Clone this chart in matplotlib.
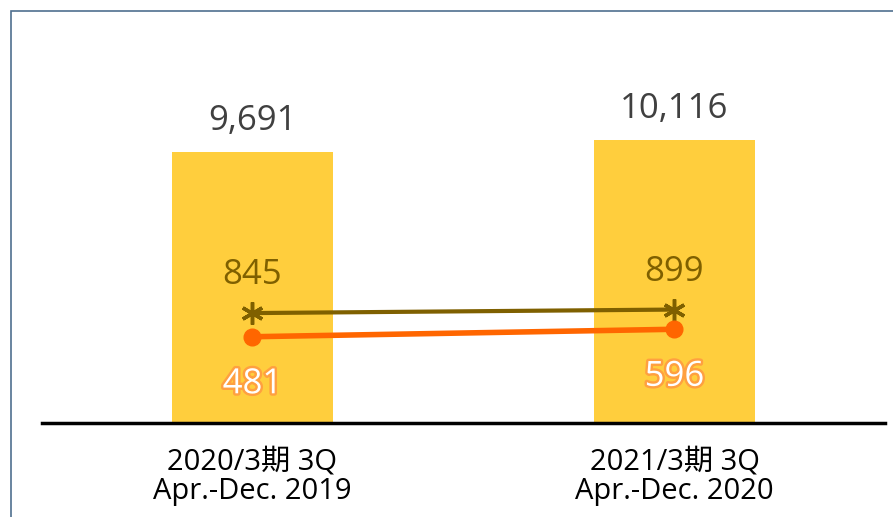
import matplotlib
matplotlib.use("Agg")
import matplotlib.pyplot as plt
import matplotlib.patheffects as pe
from matplotlib.patches import Rectangle

categories = ["2020/3期 3Q\nApr.-Dec. 2019", "2021/3期 3Q\nApr.-Dec. 2020"]
bar_values = [9691, 10116]
line1_values = [845, 899]
line2_values = [481, 596]

plt.rcParams['font.family'] = ['Open Sans', 'Noto Sans CJK JP', 'DejaVu Sans']

fig = plt.figure(figsize=(8.93, 5.17), dpi=100)
W, H = 893, 517
ax = fig.add_axes([41.5 / W, 1 - 423 / H, 844 / W, 412 / H])
ax2 = ax.twinx()

x = list(range(len(categories)))
ax.bar(x, bar_values, width=0.38, color="#FFCE3D", zorder=1)
ax.set_xlim(-0.5, 1.5)
ax.set_ylim(0, 14730)
ax2.set_ylim(-846, 5492)

ax2.plot(x, line1_values, color="#7F6000", lw=3, marker=(6, 2, 0),
         markersize=16, markeredgewidth=2.5, zorder=3)
ax2.plot(x, line2_values, color="#FF6600", lw=4, marker="o",
         markersize=12, zorder=3)

for xi, v in zip(x, bar_values):
    ax.annotate(f"{v:,}", (xi, v), xytext=(0, 10), textcoords="offset points",
                ha="center", va="bottom", fontsize=25, color="#404040")
for xi, v in zip(x, line1_values):
    ax2.annotate(f"{v:,}", (xi, v), xytext=(0, 15), textcoords="offset points",
                 ha="center", va="bottom", fontsize=25, color="#7F6000")
for xi, v in zip(x, line2_values):
    ax2.annotate(f"{v:,}", (xi, v), xytext=(0, -22), textcoords="offset points",
                 ha="center", va="top", fontsize=25, color="white",
                 path_effects=[pe.withStroke(linewidth=3.5, foreground="#FFA040")])

for a in (ax, ax2):
    for s in ("top", "right", "left"):
        a.spines[s].set_visible(False)
    a.set_yticks([])
ax2.spines["bottom"].set_visible(False)
ax.spines["bottom"].set_color("black")
ax.spines["bottom"].set_linewidth(2.5)
ax.set_xticks(x)
ax.set_xticklabels(categories, fontsize=21, color="black", linespacing=0.98)
ax.tick_params(axis="x", length=0, pad=18)

fig.patches.append(Rectangle((11 / W, -0.1), 1.2, 1 - 11 / H + 0.1,
                             transform=fig.transFigure, fill=False,
                             edgecolor="#4F6F8F", lw=1.2))

fig.savefig("out.png", dpi=100)
